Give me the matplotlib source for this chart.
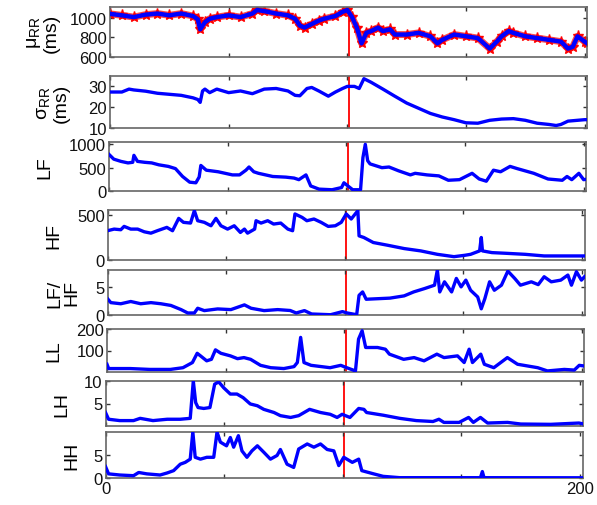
import matplotlib
matplotlib.use('Agg')
import matplotlib.pyplot as plt

plt.rcParams['font.family'] = ['Liberation Sans', 'DejaVu Sans']
plt.rcParams['mathtext.fontset'] = 'custom'
plt.rcParams['mathtext.rm'] = 'Liberation Sans'

# mean RR (ms)
t_mu = [0, 5, 10, 15, 20, 25, 30, 35, 37, 38, 40, 42, 45, 50, 55, 60, 62, 65,
        70, 75, 78, 80, 82, 85, 88, 90, 95, 98, 100, 102, 104, 106, 108, 110,
        113, 115, 118, 120, 125, 130, 135, 138, 140, 145, 150, 155, 160, 163,
        165, 168, 170, 175, 180, 185, 190, 193, 195, 197, 200, 201]
mu_rr = [1040, 1025, 1007, 1032, 1043, 1025, 1043, 1018, 985, 882, 954, 990,
         1007, 1025, 1007, 1043, 1079, 1068, 1043, 1025, 990, 920, 900, 936,
         971, 989, 1018, 1061, 1079, 1007, 900, 739, 846, 864, 900, 864, 882,
         829, 829, 846, 811, 739, 775, 829, 811, 793, 686, 757, 811, 864, 846,
         811, 793, 775, 757, 686, 704, 811, 757, 740]

# std RR (ms)
t_sd = [0, 5, 8, 10, 15, 20, 25, 30, 35, 37, 38, 39, 40, 42, 45, 50, 55, 60,
        65, 70, 75, 78, 80, 83, 85, 88, 92, 95, 98, 100, 103, 105, 107, 110,
        115, 120, 125, 130, 135, 140, 145, 150, 155, 160, 165, 170, 175, 180,
        185, 188, 190, 193, 200, 201]
sd_rr = [27.3, 27.3, 28.7, 28.3, 27.7, 26.7, 26.2, 25.7, 24.5, 23.7, 22.3,
         27.8, 28.7, 27.0, 28.7, 27.0, 27.8, 26.5, 28.7, 29.0, 27.8, 25.7,
         25.5, 29.0, 29.5, 27.8, 25.3, 27.3, 29.0, 30.0, 30.0, 29.0, 33.7,
         32.0, 28.7, 25.3, 22.0, 19.5, 17.0, 15.3, 14.0, 12.5, 12.3, 13.7,
         14.3, 14.5, 13.7, 12.3, 11.7, 11.2, 11.7, 13.3, 14.0, 14.0]

# LF power
t_lf = [0, 2, 5, 8, 10, 10.5, 12, 15, 18, 21, 25, 28, 31, 34, 36.6, 38, 38.7,
        41, 46, 52, 55, 57.7, 59, 61, 63, 69, 74.5, 78, 80, 83, 85, 88.5, 94,
        98, 99, 101, 102.7, 106, 107, 108, 109, 110, 115, 118, 122, 127, 129,
        134, 139, 143, 147.7, 153, 156, 159, 162, 165, 169, 172, 179, 185,
        191, 193, 195, 198, 200, 201]
lf = [784, 683, 635, 602, 615, 764, 635, 615, 602, 561, 527, 480, 311, 189,
      176, 300, 548, 446, 412, 345, 345, 446, 514, 412, 379, 311, 297, 277,
      243, 345, 108, 40, 27, 74, 176, 95, 27, 27, 716, 1000, 649, 581, 500,
      514, 433, 345, 379, 345, 324, 230, 243, 379, 257, 210, 446, 412, 527,
      480, 379, 257, 230, 311, 243, 379, 243, 250]

# HF power
t_hf = [0, 2.8, 5.6, 7, 9.8, 12.7, 15.5, 18.3, 21, 25, 27.4, 30, 32, 35, 36.6,
        38, 40.8, 43.6, 45.7, 47.8, 50.6, 53.4, 56, 57.7, 59, 62, 62.6, 64.7,
        67.5, 70, 73, 76, 78, 79, 82, 84, 87, 90, 93, 96, 98.5, 100.6, 102.7,
        105.5, 106, 108, 112, 118, 125, 132, 139, 146, 150.5, 153, 156.8,
        157.5, 158, 162, 167.5, 176, 184, 192.7, 201]
hf = [325, 343, 336, 373, 343, 343, 313, 298, 325, 362, 325, 462, 418, 410,
      548, 436, 418, 380, 462, 380, 343, 380, 306, 343, 298, 343, 436, 410,
      436, 399, 410, 343, 325, 511, 473, 436, 455, 418, 373, 380, 418, 511,
      455, 548, 268, 250, 194, 164, 127, 101, 63, 37, 52, 63, 101, 250, 101,
      82, 75, 63, 45, 45, 45]

# LF/HF ratio
t_ratio = [0, 1.4, 5.6, 9.8, 14, 18.3, 22.5, 26.7, 31, 33.8, 36.6, 38, 40.8,
           46.4, 52, 57.7, 60.5, 66, 71.7, 77, 79.5, 83, 86, 94, 99, 101, 105,
           106, 107.5, 109, 114, 119, 125, 129, 133.6, 137.8, 139, 140, 142,
           145, 147, 149, 151, 153, 156, 157.5, 159, 161, 163, 166, 168.7,
           171.6, 174, 178.6, 181.5, 184, 187, 191, 194, 195.5, 197.6, 199.7,
           201]
ratio = [2.9, 2.2, 2.0, 2.4, 2.0, 2.2, 2.0, 1.7, 0.96, 0.36, 0.36, 1.2, 0.78,
         1.08, 0.96, 1.8, 1.2, 0.78, 0.96, 0.8, 0.36, 0.78, 0.18, 0.05, 0.6,
         0.36, 0.05, 3.5, 4.1, 2.8, 2.9, 3.0, 3.4, 4.1, 4.7, 5.3, 8.0, 4.1,
         5.9, 4.1, 6.5, 5.0, 6.2, 4.4, 3.2, 1.1, 2.9, 5.9, 4.4, 5.3, 7.8, 6.5,
         5.3, 5.9, 5.4, 6.8, 5.9, 6.2, 7.1, 5.3, 7.7, 6.2, 6.8]

# LL
t_ll = [0, 0.7, 9.8, 18, 26.7, 32, 36, 38, 39.4, 42, 44, 45.7, 48, 52, 55,
        57.7, 60.5, 64.7, 69, 74.5, 78.8, 80.2, 81.6, 83, 86, 94, 98.5, 101,
        104.7, 106, 107.5, 109, 114, 117.3, 119, 125, 129.4, 133.6, 139, 142,
        147.7, 150.5, 152.6, 154, 157.5, 159, 163, 168.7, 173, 181.5, 185.6,
        192.7, 196.9, 199, 201]
ll = [36, 16, 16, 12, 12, 20, 44, 87, 75, 52, 59, 103, 87, 75, 62, 67, 59, 31,
      20, 16, 25, 44, 161, 44, 31, 20, 31, 20, 5, 153, 192, 114, 114, 106, 83,
      59, 67, 52, 83, 67, 75, 44, 106, 44, 83, 36, 20, 67, 36, 20, 5, 12, 9,
      31, 28]

# LH
t_lh = [0, 1.3, 6, 11.8, 14.6, 20, 26, 31.5, 35.7, 37, 38, 39, 41.4, 44, 46,
        47.7, 49.8, 52.6, 55.4, 58, 61, 64, 66.7, 71, 73.7, 78, 81.4, 86,
        90.6, 94.7, 97.6, 99.7, 103, 106.7, 108.9, 110, 117, 124, 131, 138,
        140.5, 142.6, 149, 153, 155, 158, 161, 169.4, 175, 187.6, 199.5, 201]
lh = [3.0, 1.5, 1.2, 1.2, 1.7, 1.2, 1.5, 1.5, 1.7, 10.0, 5.2, 4.1, 3.9, 4.1,
      9.3, 9.8, 8.5, 7.1, 7.1, 6.3, 4.9, 4.5, 3.7, 3.0, 2.3, 1.9, 2.3, 3.7,
      3.0, 2.6, 1.9, 2.6, 1.9, 3.9, 3.7, 3.0, 2.4, 1.7, 1.2, 1.0, 1.5, 0.8,
      0.8, 1.9, 0.8, 1.9, 0.66, 0.8, 0.44, 0.37, 0.66, 0.5]

# HH
t_hh = [0, 1.3, 6, 11.8, 14, 17.4, 23, 26, 28.7, 31.5, 33.6, 35.7, 36.8, 37.8,
        40, 42.7, 45.6, 47, 48.4, 51, 52.6, 54, 56, 57.5, 59.6, 61.7, 64,
        66.7, 69.5, 72.3, 73.7, 76.5, 79.3, 81.4, 85, 87.8, 90.6, 93.4, 96.2,
        98.3, 100.4, 104, 106.7, 108, 113, 117, 124, 158, 158.8, 159.5, 201]
hh = [2.5, 0.9, 0.65, 0.5, 1.2, 0.9, 0.65, 1.1, 1.6, 3.0, 3.4, 4.1, 10.0, 4.5,
      4.1, 4.5, 4.5, 10.0, 7.8, 7.0, 8.8, 6.7, 9.2, 5.9, 4.5, 5.9, 7.0, 5.6,
      4.1, 4.9, 6.2, 3.0, 2.3, 6.3, 7.4, 6.7, 7.4, 6.2, 5.9, 2.7, 4.5, 3.4,
      4.1, 1.6, 0.9, 0.36, 0.07, 0.07, 1.4, 0.07, 0.05]

event_t = 100.5

labels = ['μ$_{\\mathrm{RR}}$\n(ms)', 'σ$_{\\mathrm{RR}}$\n(ms)', 'LF', 'HF',
          'LF/\nHF', 'LL', 'LH', 'HH']
series = [(t_mu, mu_rr), (t_sd, sd_rr), (t_lf, lf), (t_hf, hf),
          (t_ratio, ratio), (t_ll, ll), (t_lh, lh), (t_hh, hh)]
ylims = [(600, 1110), (10, 35), (0, 1050), (0, 555), (0, 8), (0, 200),
         (0, 10), (0, 10)]
yticks = [[600, 800, 1000], [10, 20, 30], [0, 500, 1000], [0, 500], [0, 5],
          [100, 200], [5, 10], [0, 5]]

# panel boxes in pixels: left, top, bottom ; label right edge in pixels
W, H = 597, 506
boxes = [(110, 8, 58), (110, 77, 129), (109, 143, 192), (107.5, 211, 261),
         (107.5, 271, 316), (107, 330, 373), (105.5, 382, 427),
         (105.5, 433, 479)]
label_x = [60, 70, 53, 62, 80, 62, 70, 80]
axw = 477

fig = plt.figure(figsize=(W / 100, H / 100), dpi=100)

for i in range(8):
    left, top, bot = boxes[i]
    ax = fig.add_axes([left / W, 1 - bot / H, axw / W, (bot - top) / H])
    t, y = series[i]
    ax.axvline(event_t, color='r', lw=1.3, zorder=1)
    if i == 0:
        # raw beats as red stars under the mean curve
        ax.plot(t, y, color='r', lw=5, alpha=0.7, zorder=2)
        ax.plot(t, y, '*', color='r', ms=8, zorder=2)
        ax.plot(t, y, color='b', lw=3.2, zorder=3)
    else:
        ax.plot(t, y, color='b', lw=2.4, zorder=3)
    ax.set_xlim(0, 201)
    ax.set_ylim(*ylims[i])
    ax.set_yticks(yticks[i])
    ax.set_xticks([0, 50, 100, 150, 200])
    if i == 7:
        ax.set_xticklabels(['0', '', '', '', '200'])
    else:
        ax.set_xticklabels([])
    ax.tick_params(direction='in', length=3, width=1, top=True, right=True,
                   labelsize=12, colors='#333333', labelcolor='#111111', pad=2)
    for sp in ax.spines.values():
        sp.set_color('#666666')
        sp.set_linewidth(1.2)
    ax.set_ylabel(labels[i], fontsize=14, linespacing=1.0)
    ax.yaxis.set_label_coords((label_x[i] - left) / axw, 0.5)

fig.savefig('out.png', dpi=100)
